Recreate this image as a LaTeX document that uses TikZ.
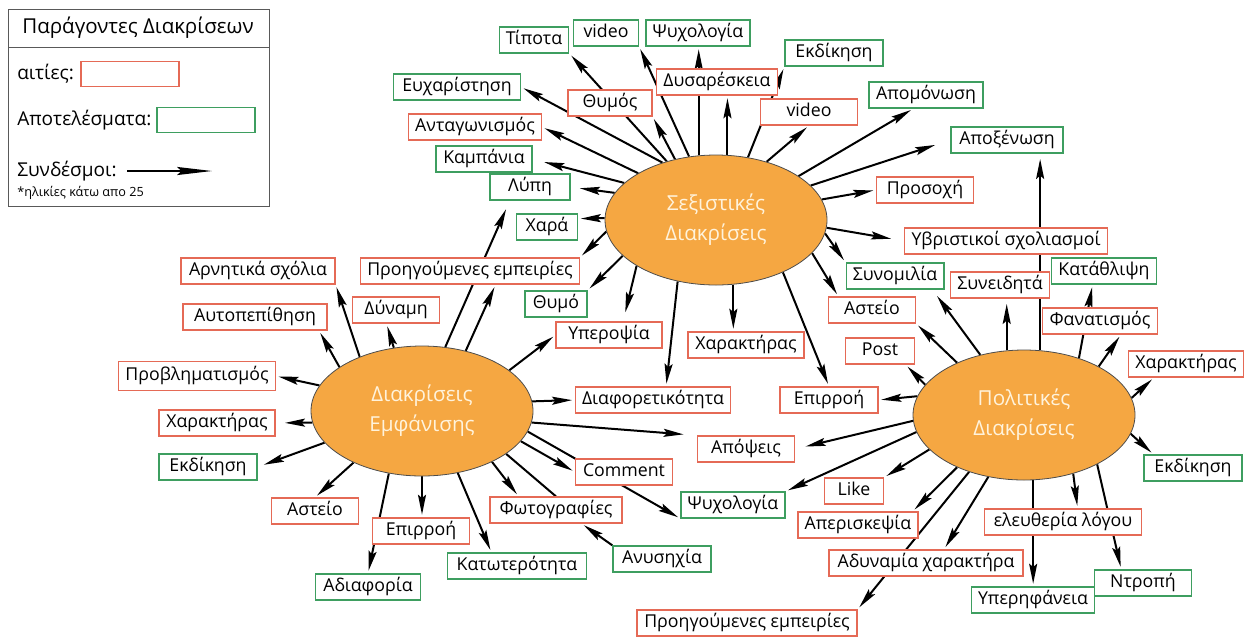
\documentclass[tikz,border=0pt]{standalone}
\usepackage{fontspec}
\setmainfont{Open Sans}
\usetikzlibrary{shapes, arrows.meta, backgrounds, calc}
\definecolor{aitiared}{RGB}{229,106,86}
\definecolor{apotgreen}{RGB}{62,158,96}
\definecolor{orangefill}{RGB}{245,167,66}
\definecolor{lighttext}{RGB}{255,243,220}
\tikzstyle{box}=[rectangle, draw, line width=0.9pt, fill=white, minimum height=19.5pt, inner xsep=5pt, inner ysep=0pt, text height=9.5pt, text depth=2.8pt, font=\fontsize{13.3}{15}\selectfont]
\tikzstyle{aitia}=[box, draw=aitiared]
\tikzstyle{apot}=[box, draw=apotgreen]
\tikzstyle{blob}=[ellipse, draw=black!70, line width=0.6pt, fill=orangefill, minimum width=166.5pt, minimum height=97.5pt, inner sep=0pt, align=center, text=lighttext, font=\fontsize{15.5}{22.5}\selectfont]
\tikzstyle{link}=[line width=1.5pt, -{Stealth[length=15pt, width=6pt, inset=2.5pt]}, shorten >=2pt]
\tikzstyle{legtext}=[anchor=west, inner sep=0pt, font=\fontsize{14.3}{16}\selectfont]
\tikzset{bw/.style={minimum width=#1*0.75pt}}

\begin{document}
\begin{tikzpicture}[x=0.75pt, y=-0.75pt]
\useasboundingbox (0,0) rectangle (1251,637);

\node [draw=black!65, line width=0.7pt, minimum width=195.75pt, minimum height=147.75pt, anchor=north west] (leg) at (8,9) {};
\draw [black!65, line width=0.7pt] (8,47) -- (269,47);
\node [font=\fontsize{15.4}{17}\selectfont] (legt) at (138,28) {Παράγοντες Διακρίσεων};
\node [legtext] (legc) at (17,74) {αιτίες:};
\node [aitia, bw=98, minimum height=18.75pt] (legcb) at (130,74) {};
\node [legtext] (lege) at (17,120) {Αποτελέσματα:};
\node [apot, bw=98, minimum height=18.75pt] (legeb) at (206,120) {};
\node [legtext] (legl) at (17,171) {Συνδέσμοι:};
\coordinate (la) at (127,171); \coordinate (lb) at (212,171);
\node [anchor=west, inner sep=0pt, font=\fontsize{9.5}{11}\selectfont] (legn) at (17,193) {*ηλικίες κάτω απο 25};

\node [blob] (sex) at (716,220) {Σεξιστικές\\Διακρίσεις};
\node [blob] (emf) at (422,411) {Διακρίσεις\\Εμφάνισης};
\node [blob] (pol) at (1024,415) {Πολιτικές\\Διακρίσεις};

\node [apot, bw=69] (tip) at (534,40) {Τίποτα};
\node [apot, bw=65] (vidg) at (606,33) {video};
\node [apot, bw=98] (psyt) at (698,33) {Ψυχολογία};
\node [aitia, bw=120] (dys) at (717,82) {Δυσαρέσκεια};
\node [aitia, bw=84] (thy) at (610,103) {Θυμός};
\node [apot, bw=127] (euc) at (457,87) {Ευχαρίστηση};
\node [aitia, bw=127] (ant) at (475,127) {Ανταγωνισμός};
\node [apot, bw=96] (kam) at (484,159) {Καμπάνια};
\node [apot, bw=80] (lyp) at (530,187) {Λύπη};
\node [apot, bw=61] (xar) at (547,227) {Χαρά};
\node [aitia, bw=216] (prl) at (470,271) {Προηγούμενες εμπειρίες};
\node [apot, bw=62] (thm) at (556,304) {Θυμό};
\node [aitia, bw=106] (yper) at (609,335) {Υπεροψία};
\node [aitia, bw=116] (chm) at (746,345) {Χαρακτήρας};
\node [aitia, bw=153] (dia) at (653,400) {Διαφορετικότητα};
\node [aitia, bw=98] (epm) at (829,400) {Επιρροή};
\node [aitia, bw=97] (vidr) at (809,112) {video};
\node [apot, bw=98] (ekt) at (834,53) {Εκδίκηση};
\node [apot, bw=114] (apm) at (926,95) {Απομόνωση};
\node [apot, bw=112] (apx) at (1007,140) {Αποξένωση};
\node [aitia, bw=97] (pro) at (925,190) {Προσοχή};
\node [aitia, bw=195] (ybr) at (1006,241) {Υβριστικοί σχολιασμοί};
\node [apot, bw=97] (syn) at (895,276) {Συνομιλία};
\node [aitia, bw=87] (str) at (872,310) {Αστείο};
\node [aitia, bw=69] (post) at (880,351) {Post};
\node [aitia, bw=97] (sne) at (1000,285) {Συνειδητά};
\node [apot, bw=97] (kat) at (1104,271) {Κατάθλιψη};
\node [aitia, bw=113] (fan) at (1100,321) {Φανατισμός};
\node [aitia, bw=115] (chr) at (1186,364) {Χαρακτήρας};
\node [apot, bw=98] (ekr) at (1193,468) {Εκδίκηση};

\node [aitia, bw=154] (arn) at (258,271) {Αρνητικά σχόλια};
\node [aitia, bw=144] (aut) at (255,317) {Αυτοπεπίθηση};
\node [aitia, bw=87] (dyn) at (396,310) {Δύναμη};
\node [aitia, bw=151, minimum height=22pt] (prv) at (197,376) {Προβληματισμός};
\node [aitia, bw=116] (chl) at (217,423) {Χαρακτήρας};
\node [apot, bw=98] (ekl) at (208,467) {Εκδίκηση};
\node [aitia, bw=87] (stl) at (315,511) {Αστείο};
\node [aitia, bw=97] (epl) at (421,531) {Επιρροή};
\node [apot, bw=105] (adi) at (368,587) {Αδιαφορία};
\node [apot, bw=139] (kto) at (517,566) {Κατωτερότητα};
\node [aitia, bw=132] (fot) at (556,510) {Φωτογραφίες};
\node [apot, bw=98] (any) at (662,559) {Ανυσηχία};
\node [aitia, bw=97] (com) at (624,472) {Comment};
\node [apot, bw=98] (psm) at (733,505) {Ψυχολογία};
\node [aitia, bw=97] (apo) at (746,449) {Απόψεις};

\node [aitia, bw=59] (lik) at (854,491) {Like};
\node [aitia, bw=114] (apr) at (858,525) {Απερισκεψία};
\node [aitia, bw=194] (ady) at (926,563) {Αδυναμία χαρακτήρα};
\node [aitia, bw=220] (prb) at (747,623) {Προηγούμενες εμπειρίες};
\node [aitia, bw=157] (ele) at (1063,522) {ελευθερία λόγου};
\node [apot, bw=121] (yph) at (1033,600) {Υπερηφάνεια};
\node [apot, bw=97] (ntr) at (1143,583) {Ντροπή};

\begin{pgfonlayer}{background}
\draw [line width=1.5pt, -{Stealth[length=26pt, width=6pt, inset=3pt]}] (la) -- (lb);

\draw [link] (sex.130) -- (tip.south east);
\draw [link] (sex.113) -- (vidg.south east);
\draw [link] (sex.105) -- (sex.105 |- psyt.south);
\draw [link] (sex.80) -- (sex.80 |- dys.south);
\draw [link] (sex.124) -- (thy.south east);
\draw [link] (sex.63) -- (ekt.south west);
\draw [link] (sex.49) -- (vidr.south);
\draw [link] (sex.28) -- (apm.-133);
\draw [link, shorten >=12pt] (sex.20) -- (apx.west);
\draw [link] (sex.11) -- (pro.west);
\draw [link, shorten >=10pt] (sex.-4) -- (ybr.west);
\draw [link] (sex.-7) -- (syn.north west);
\draw [link] (sex.-19) -- (str.158);
\draw [link] (sex.-38) -- (epm.north);
\draw [link] (sex.-75) -- (sex.-75 |- chm.north);
\draw [link] (sex.-122) -- (dia.46);
\draw [link, shorten >=7pt] (sex.-150) -- (yper.44);
\draw [link] (sex.-159) -- (thm.north east);
\draw [link] (sex.-174) -- (prl.north east);
\draw [link] (sex.179) -- (xar.15);
\draw [link, shorten >=7pt] (sex.165) -- (lyp.east);
\draw [link, shorten >=9pt] (sex.158) -- (kam.east);
\draw [link] (sex.149) -- (ant.east);
\draw [link] (sex.133) -- (euc.east);

\draw [link] (emf.139) -- (arn.south east);
\draw [link] (emf.152) -- (aut.-12);
\draw [link] (emf.114) -- (dyn.-125);
\draw [link, shorten >=7pt] (emf.70) -- (lyp.-146);
\draw [link] (emf.54) -- (prl.-28);
\draw [link] (emf.25) -- (yper.west);
\draw [link] (emf.5) -- (dia.west);
\draw [link, shorten >=10pt] (emf.-6) -- (apo.north west);
\draw [link] (emf.-11) -- (psm.south west);
\draw [link] (emf.-17) -- (com.west);
\draw [link] (emf.-36) -- (fot.160);
\draw [line width=1.5pt] (emf.-27) -- (fot.north);
\draw [link] (any.north west) -- (fot.-28);
\draw [link] (emf.-60) -- (kto.152);
\draw [link] (emf.-90) -- (emf.-90 |- epl.north);
\draw [link] (emf.-118) -- (adi.north);
\draw [link] (emf.-143) -- (stl.north);
\draw [link, shorten >=5pt] (emf.-162) -- (ekl.east);
\draw [link, shorten >=7pt] (emf.-174) -- (chl.east);
\draw [link] (emf.166) -- (prv.east);

\draw [link] (pol.170) -- (epm.east);
\draw [link] (pol.163) -- (post.-28);
\draw [link] (pol.142) -- (str.south east);
\draw [link, shorten >=6pt] (pol.126) -- (syn.-20);
\draw [link, shorten >=4pt] (pol.105) -- (pol.105 |- sne.south);
\draw [link, shorten >=4pt] (pol.76) -- (pol.76 |- apx.south);
\draw [link] (pol.46) -- (kat.-130);
\draw [link] (pol.33) -- (fan.-33);
\draw [link] (pol.9) -- (chr.-157);
\draw [link] (pol.-10) -- (ekr.161);
\draw [link] (pol.-34) -- (ntr.148);
\draw [link] (pol.-50) -- (ele.43);
\draw [link] (pol.-82) -- (pol.-82 |- yph.north);
\draw [link] (pol.-120) -- (ady.37);
\draw [link] (pol.-134) -- (prb.north east);
\draw [link] (pol.-142) -- (apr.14);
\draw [link] (pol.-160) -- (lik.north east);
\draw [link, shorten >=8pt] (pol.-177) -- (apo.east);
\draw [link] (pol.-171) -- (psm.north east);
\end{pgfonlayer}
\end{tikzpicture}
\end{document}
